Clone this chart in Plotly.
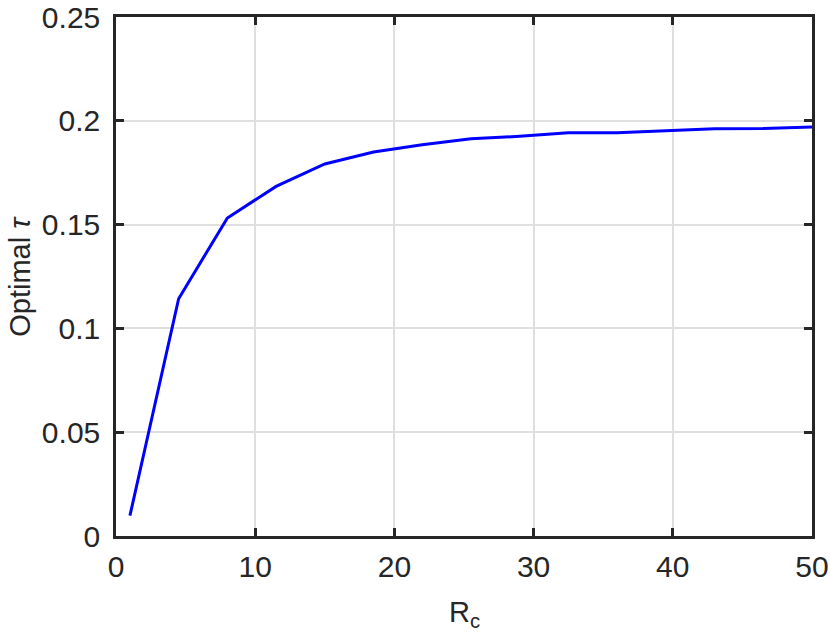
import plotly.graph_objects as go

# Optimal tau versus R_c
rc = [1, 4.5, 8, 11.5, 15, 18.5, 22, 25.5, 29, 32.5, 36, 39.5, 43, 46.5, 50]
optimal_tau = [0.0098, 0.1143, 0.1532, 0.1684, 0.1792, 0.1850, 0.1885, 0.1913,
               0.1925, 0.1942, 0.1943, 0.1952, 0.1962, 0.1963, 0.1970]

x_ticks = [0, 10, 20, 30, 40, 50]
y_ticks = [0, 0.05, 0.1, 0.15, 0.2, 0.25]
y_tick_labels = ['0', '0.05', '0.1', '0.15', '0.2', '0.25']

FONT = 'Liberation Sans, Arial, Helvetica'
INK = '#262626'

fig = go.Figure()

fig.add_trace(go.Scatter(
    x=rc,
    y=optimal_tau,
    mode='lines',
    line=dict(color='#0000ff', width=3),
    showlegend=False
))

axis_style = dict(
    showline=True,
    linecolor=INK,
    linewidth=2.5,
    mirror='ticks',
    ticks='inside',
    ticklen=8,
    tickwidth=2.5,
    tickcolor=INK,
    showgrid=True,
    gridcolor='#dfdfdf',
    gridwidth=2,
    zeroline=False,
    automargin=False,
    ticklabeloverflow='allow',
    tickfont=dict(family=FONT, size=30, color=INK),
)

fig.update_xaxes(range=[0, 50], tickvals=x_ticks, ticklabelstandoff=2, **axis_style)
fig.update_yaxes(range=[0, 0.25], tickvals=y_ticks, ticktext=y_tick_labels,
                 ticklabelstandoff=7, **axis_style)

# axis titles
fig.add_annotation(
    text='R<sub>c</sub>', xref='paper', yref='paper',
    x=0.5, y=-0.112, xanchor='center', yanchor='top', showarrow=False,
    font=dict(family=FONT, size=29, color=INK)
)
fig.add_annotation(
    text='Optimal <i>τ</i>', xref='paper', yref='paper',
    x=-0.139, y=0.5, xanchor='center', yanchor='middle', textangle=-90,
    showarrow=False, font=dict(family=FONT, size=29, color=INK)
)

fig.update_layout(
    width=830,
    height=643,
    margin=dict(l=116, r=18, t=17, b=107),
    plot_bgcolor='white',
    paper_bgcolor='white',
)

# drop the default page margin so the figure sits flush in the window
fig.write_html("out.html", config={'displayModeBar': False},
               post_script="document.body.style.margin = '0';")
